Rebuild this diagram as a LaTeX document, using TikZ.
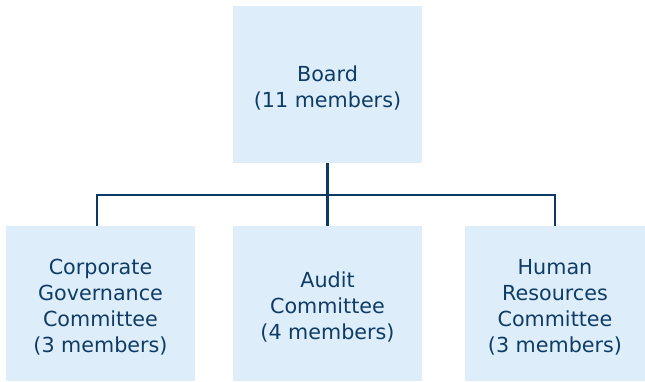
\documentclass[tikz,border=0pt]{standalone}
\usepackage{fontspec}
\setmainfont{DejaVu Sans}
\definecolor{boxfill}{HTML}{DDEEFA}
\definecolor{navy}{HTML}{0B3A64}
\definecolor{txt}{HTML}{0F3C66}
\begin{document}
\begin{tikzpicture}[x=1pt,y=1pt,
  orgbox/.style={fill=boxfill,draw=none,inner sep=0pt},
  orgtext/.style={align=center,text=txt,inner sep=0pt,yshift=-3.5pt,
    font=\fontsize{20.7}{26}\selectfont},
  link/.style={draw=navy,line width=2.5pt}]
\useasboundingbox (0,0) rectangle (645,381);
\node[orgbox,minimum width=189pt,minimum height=157pt,
  label={[orgtext]center:Board\\(11 members)}] (board) at (327.5,296.5) {};
\node[orgbox,minimum width=189pt,minimum height=155pt,
  label={[orgtext]center:Corporate\\Governance\\Committee\\(3 members)}] (cgc) at (100.5,77.5) {};
\node[orgbox,minimum width=189pt,minimum height=155pt,
  label={[orgtext]center:Audit\\Committee\\(4 members)}] (aud) at (327.5,77.5) {};
\node[orgbox,minimum width=180pt,minimum height=155pt,
  label={[orgtext]center:Human\\Resources\\Committee\\(3 members)}] (hrc) at (555,77.5) {};
\coordinate (j) at (327.5,186);
\draw[link] (board.south) -- (aud.north);
\draw[link] ([xshift=-3.5pt]cgc.north) |- (j) -| (hrc.north);
\end{tikzpicture}
\end{document}
